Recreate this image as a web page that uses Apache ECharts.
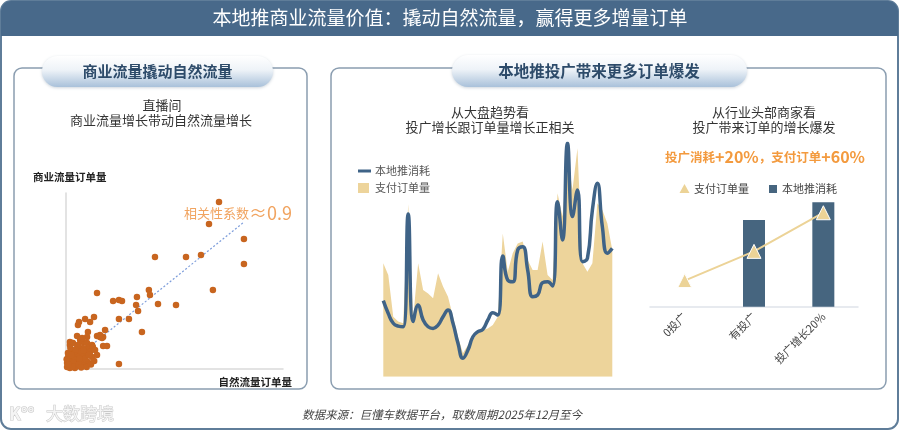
<!DOCTYPE html>
<html><head><meta charset="utf-8">
<script src="https://cdn.jsdelivr.net/npm/echarts@6/dist/echarts.min.js"></script>
<style>html,body{margin:0;padding:0;background:#fff}#c{width:900px;height:431px}</style>
</head><body><div id="c"></div>
<script>
const FONT = "'Noto Sans CJK SC', 'Noto Sans', sans-serif";

// ---------- left: scatter ----------
const scatterPoints = [
  [70.5,94.9],[65.9,82.4],[82.0,73.9],[82.0,59.7],[41.0,63.6],[55.3,63.6],[62.2,64.8],[67.7,44.9],
  [38.2,44.9],[38.7,42.0],[32.7,40.9],[14.3,43.2],[21.7,38.6],[24.4,39.2],[25.8,38.6],[32.3,36.4],
  [42.4,36.9],[50.7,36.4],[33.2,33.0],[24.4,28.4],[29.0,28.4],[35.0,21.0],[24.4,2.8],[12.9,29.5],
  [8.8,28.4],[11.1,26.7],[6.0,26.7],[5.5,25.0],[18.0,22.2],[10.1,21.0],[5.1,18.8],[14.3,18.8],
  [15.7,18.2],[17.1,18.2],[16.6,17.6],[17.1,13.1],[18.9,13.1],[2.8,14.8],[1.8,13.6],[15.7,19.3],
  [1.8,15.3],[3.2,14.8],[6.5,16.5],[7.8,15.3],[9.7,14.8],[12.0,13.6],[10.1,11.9],[7.8,11.9],
  [5.1,11.9],[2.8,10.8],[0.9,9.1],[4.1,9.1],[6.5,9.7],[8.8,9.1],[11.1,9.7],[3.2,6.8],
  [5.5,6.8],[7.8,6.8],[1.8,5.1],[4.1,5.1],[6.5,4.0],[0.5,3.4],[2.8,2.3],[5.1,1.7],
  [0.5,1.1],[1.8,0.6],[4.1,0.6],[12.4,12.5],[9.7,18.2],[7.4,17.6],[5.5,13.6],[13.4,10.8],
  [14.3,8.0],[12.0,6.8],[7.4,3.4],[10.1,4.0],[1.0,7.0],[2.5,8.0],[3.5,3.5],[6.0,2.5],
  [8.5,2.0],[9.0,6.0],[10.5,8.0],[0.3,5.5],[2.0,12.0],[4.5,11.0],[3.0,1.5],[7.0,0.8],
  [9.5,1.2],[1.2,2.5],[6.2,5.8],[11.5,2.5],[13.0,4.5],[8.0,10.5]
];
const trendLine = [[0.5,2.3],[82,83.5]];

// ---------- middle: trend ----------
const dayLabels = ['1','2','3','4','5','6','7','8','9','10','11','12','13','14','15','16','17','18','19','20',
  '21','22','23','24','25','26','27','28','29','30','31','32','33','34','35','36','37','38','39','40',
  '41','42','43','44','45','46','47'];
const spendLine = [32.6,27.1,22.9,21.7,21.4,69.7,23.6,30.7,24.3,21.4,20.7,22.1,25.7,28.6,22.9,14.3,7.9,11.4,17.1,19.3,
  20.3,24.3,27.4,26.4,51.7,41.4,40.7,54.3,55.7,45.7,34.3,35.0,40.3,40.7,38.9,75.0,58.6,100,68.6,80.0,
  49.3,50.7,71.4,82.9,64.3,52.9,55.0];
const orderArea = [48.6,43.6,25.7,23.6,22.9,74.0,25.0,48.6,37.1,35.7,33.6,44.3,38.6,34.3,25.7,17.1,10.0,13.6,15.7,19.3,
  20.0,20.7,22.1,25.7,61.4,45.0,52.9,57.1,57.9,50.0,45.7,45.7,57.9,43.6,41.4,78.6,68.6,94.3,80.0,97.9,
  48.6,45.0,48.6,74.3,71.4,65.7,54.3];

// ---------- right: groups ----------
const groupCategories = ['0投广','有投广','投广增长20%'];
const groupSpend = [null, 83, 100];
const groupOrders = [25, 53, 90];

const chart = echarts.init(document.getElementById('c'));

function txt(x, y, text, font, fill, align, extra) {
  return Object.assign({
    type: 'text', x: x, y: y, z: 50,
    style: Object.assign({text: text, font: font, fill: fill,
      textAlign: align || 'center', align: align || 'center',
      textVerticalAlign: 'middle', verticalAlign: 'middle'}, extra || {})
  });
}
const pillFill = () => new echarts.graphic.LinearGradient(0, 0, 0, 1, [
  {offset: 0, color: '#ffffff'}, {offset: 0.45, color: '#eef3f8'}, {offset: 1, color: '#a9c1da'}]);

const graphics = [
  {type: 'rect', z: -20, shape: {x: 1, y: 1, width: 897, height: 428, r: 10}, style: {fill: '#fff', stroke: '#5f7d99', lineWidth: 2}},
  {type: 'rect', z: -19, shape: {x: 1, y: 1, width: 897, height: 35, r: [10, 10, 0, 0]}, style: {fill: '#48698a'}},
  txt(450, 18, '本地推商业流量价值：撬动自然流量，赢得更多增量订单', `19px ${FONT}`, '#ffffff'),
  // panels
  {type: 'rect', z: -15, shape: {x: 14, y: 68, width: 293, height: 321, r: 8}, style: {fill: 'none', stroke: '#8a9db0', lineWidth: 1.5}},
  {type: 'rect', z: -15, shape: {x: 331, y: 68, width: 555, height: 321, r: 8}, style: {fill: 'none', stroke: '#8a9db0', lineWidth: 1.5}},
  // pills
  {type: 'rect', z: -10, shape: {x: 42, y: 56, width: 231, height: 31, r: 15.5}, style: {fill: pillFill(), shadowBlur: 3, shadowOffsetY: 1, shadowColor: 'rgba(60,90,120,0.25)'}},
  txt(157.5, 71, '商业流量撬动自然流量', `bold 15px ${FONT}`, '#2d4b6a'),
  {type: 'rect', z: -10, shape: {x: 452, y: 55, width: 295, height: 32, r: 16}, style: {fill: pillFill(), shadowBlur: 3, shadowOffsetY: 1, shadowColor: 'rgba(60,90,120,0.25)'}},
  txt(599, 71, '本地推投广带来更多订单爆发', `bold 15.5px ${FONT}`, '#2d4b6a'),
  // left texts
  txt(162, 105, '直播间', `13px ${FONT}`, '#333'),
  txt(161, 120, '商业流量增长带动自然流量增长', `13px ${FONT}`, '#333'),
  txt(33, 177, '商业流量订单量', `bold 10.5px ${FONT}`, '#222', 'left'),
  txt(292, 382, '自然流量订单量', `bold 10.5px ${FONT}`, '#222', 'right'),
  {type: 'text', x: 184, y: 213, z: 50, style: {text: '{a|相关性系数}{b|≈0.9}', textAlign: 'left', align: 'left', textVerticalAlign: 'middle', verticalAlign: 'middle',
    rich: {a: {fontSize: 13, fontFamily: FONT, fill: '#f1a460', color: '#f1a460'}, b: {fontSize: 18, fontFamily: FONT, fill: '#f1a460', color: '#f1a460'}}}},
  // middle texts
  txt(490, 112, '从大盘趋势看', `13px ${FONT}`, '#333'),
  txt(490, 127, '投广增长跟订单量增长正相关', `13px ${FONT}`, '#333'),
  {type: 'line', z: 50, shape: {x1: 358, y1: 171, x2: 371, y2: 171}, style: {stroke: '#3f6387', lineWidth: 3}},
  txt(375, 171, '本地推消耗', `11px ${FONT}`, '#555', 'left'),
  {type: 'rect', z: 50, shape: {x: 358, y: 183, width: 11, height: 10}, style: {fill: '#edd49b'}},
  txt(375, 188, '支付订单量', `11px ${FONT}`, '#555', 'left'),
  // right texts
  txt(764, 112, '从行业头部商家看', `13px ${FONT}`, '#333'),
  txt(764, 127, '投广带来订单的增长爆发', `13px ${FONT}`, '#333'),
  {type: 'text', x: 765, y: 157, z: 50, style: {text: '{a|投广消耗}{b|+20%}{a|，支付订单}{b|+60%}', textAlign: 'center', align: 'center', textVerticalAlign: 'middle', verticalAlign: 'middle',
    rich: {a: {fontSize: 12.5, fontWeight: 'bold', fontFamily: FONT, fill: '#f39a3e', color: '#f39a3e'}, b: {fontSize: 16, fontWeight: 'bold', fontFamily: FONT, fill: '#f39a3e', color: '#f39a3e'}}}},
  {type: 'polygon', z: 50, shape: {points: [[684.5, 184], [689.5, 193], [679.5, 193]]}, style: {fill: '#ecd397'}},
  txt(694, 189, '支付订单量', `11px ${FONT}`, '#444', 'left'),
  {type: 'rect', z: 50, shape: {x: 769, y: 185, width: 8, height: 8}, style: {fill: '#46657f'}},
  txt(782, 189, '本地推消耗', `11px ${FONT}`, '#444', 'left'),
  // footer
  txt(442, 415, '数据来源：巨懂车数据平台，取数周期2025年12月至今', `italic 11.5px ${FONT}`, '#444'),
  txt(9, 414, 'K°°', `bold 17px ${FONT}`, '#f4f4f4', 'left', {stroke: '#c9c9c9', lineWidth: 1}),
  txt(46, 414, '大数跨境', `17px ${FONT}`, '#f4f4f4', 'left', {stroke: '#c9c9c9', lineWidth: 1})
];

const hiddenAxis = {axisLine: {show: false}, axisTick: {show: false}, axisLabel: {show: false}, splitLine: {show: false}};

chart.setOption({
  animation: false,
  graphic: graphics,
  grid: [
    {left: 66, top: 193, width: 217, height: 176},
    {left: 383.3, top: 143.3, width: 229, height: 233.4},
    {left: 650, top: 202.3, width: 208, height: 104.4}
  ],
  xAxis: [
    {gridIndex: 0, type: 'value', min: 0, max: 100, axisLine: {show: true, onZero: false, lineStyle: {color: '#dadada', width: 1.5}}, axisTick: {show: false}, axisLabel: {show: false}, splitLine: {show: false}},
    Object.assign({gridIndex: 1, type: 'category', data: dayLabels, boundaryGap: false}, hiddenAxis),
    {gridIndex: 2, type: 'category', data: groupCategories, axisLine: {show: true, lineStyle: {color: '#dfe4ea', width: 1.5}}, axisTick: {show: false},
      axisLabel: {rotate: 45, interval: 0, color: '#444', fontSize: 11, fontFamily: FONT, margin: 8}}
  ],
  yAxis: [
    {gridIndex: 0, type: 'value', min: 0, max: 100, axisLine: {show: true, onZero: false, lineStyle: {color: '#dadada', width: 1.5}}, axisTick: {show: false}, axisLabel: {show: false}, splitLine: {show: false}},
    Object.assign({gridIndex: 1, type: 'value', min: 0, max: 100}, hiddenAxis),
    Object.assign({gridIndex: 2, type: 'value', min: 0, max: 100}, hiddenAxis)
  ],
  series: [
    {name: '趋势线', type: 'line', xAxisIndex: 0, yAxisIndex: 0, data: trendLine, symbol: 'none', z: 2,
      lineStyle: {color: '#7d9ddb', width: 1.2, type: [2, 2]}},
    {name: '订单量', type: 'scatter', xAxisIndex: 0, yAxisIndex: 0, data: scatterPoints, symbolSize: 6.5, z: 3,
      itemStyle: {color: '#c8651f', opacity: 1}},
    {name: '支付订单量', type: 'line', xAxisIndex: 1, yAxisIndex: 1, data: orderArea, symbol: 'none', z: 2,
      lineStyle: {width: 0, color: '#edd49b'}, itemStyle: {color: '#edd49b'}, areaStyle: {color: '#edd49b', opacity: 1}},
    {name: '本地推消耗', type: 'line', xAxisIndex: 1, yAxisIndex: 1, data: spendLine, symbol: 'none', smooth: true, z: 3,
      lineStyle: {width: 3.5, color: '#3f6387'}, itemStyle: {color: '#3f6387'}},
    {name: '本地推消耗 ', type: 'bar', xAxisIndex: 2, yAxisIndex: 2, data: groupSpend, barWidth: 22, z: 2,
      itemStyle: {color: '#46657f'}},
    {name: '支付订单量 ', type: 'line', xAxisIndex: 2, yAxisIndex: 2, data: groupOrders, symbol: 'triangle', symbolSize: 14, z: 3,
      lineStyle: {color: '#ecd397', width: 2}, itemStyle: {color: '#ecd397', borderColor: '#fff', borderWidth: 1}}
  ]
});
</script>
</body></html>
